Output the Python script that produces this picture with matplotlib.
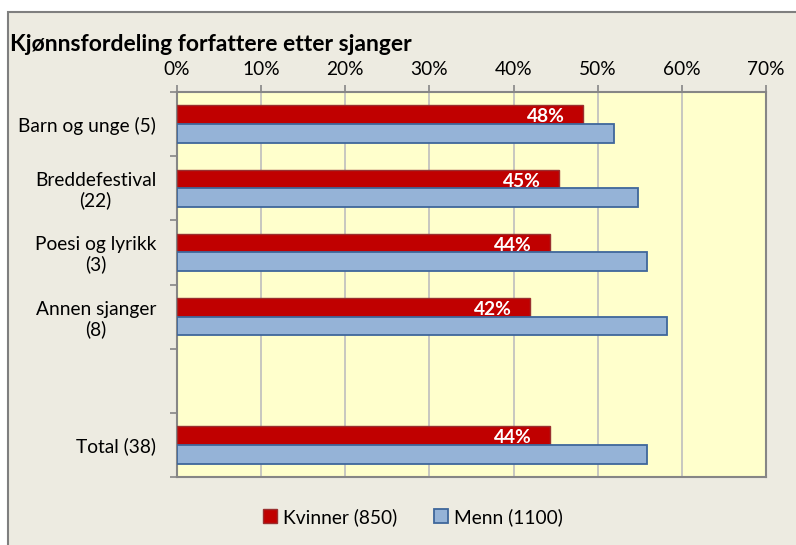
import matplotlib
matplotlib.use("Agg")
import matplotlib.pyplot as plt
import matplotlib.patches as mpatches
from matplotlib.ticker import FuncFormatter, FixedLocator
import numpy as np

# ---------------- data ----------------
CATEGORIES = ["Barn og unge (5)", "Breddefestival\n(22)", "Poesi og lyrikk\n(3)",
              "Annen sjanger\n(8)", "", "Total (38)"]
KVINNER = [0.482, 0.454, 0.443, 0.419, np.nan, 0.443]
MENN    = [0.519, 0.548, 0.558, 0.582, np.nan, 0.558]
KVINNER_LABELS = ["48%", "45%", "44%", "42%", "", "44%"]
LEGEND = ["Kvinner (850)", "Menn (1100)"]
TITLE = "Kjønnsfordeling forfattere etter sjanger"

# ---------------- style ----------------
plt.rcParams["font.family"] = ["Lato", "DejaVu Sans"]
FIG_BG   = "#EDEBE1"
PLOT_BG  = "#FFFFCC"
RED      = "#C00000"
RED_EDGE = "#9A3030"
BLUE     = "#95B3D7"
BLUE_EDGE = "#3F679B"
GRAY     = "#868686"
FS = 13.8

W, H = 796, 545
fig = plt.figure(figsize=(W / 100, H / 100), dpi=100)
fig.patch.set_facecolor("white")

# chart frame (extends past right/bottom edge)
frame = mpatches.Rectangle((8 / W, -0.05), 1.1, 1 - 12 / H + 0.05,
                           transform=fig.transFigure, facecolor=FIG_BG,
                           edgecolor="#7F7F7F", linewidth=1.5, zorder=-10)
fig.patches.append(frame)

ax = fig.add_axes([177 / W, 1 - 477 / H, (766 - 177) / W, (477 - 92) / H])
ax.set_facecolor(PLOT_BG)

y = np.arange(len(CATEGORIES))
h = 0.29
ax.barh(y - h / 2, KVINNER, height=h, color=RED, edgecolor=RED_EDGE,
        linewidth=1.0, zorder=3)
ax.barh(y + h / 2, MENN, height=h, color=BLUE, edgecolor=BLUE_EDGE,
        linewidth=1.3, zorder=3)

for yi, v, lab in zip(y, KVINNER, KVINNER_LABELS):
    if lab:
        ax.annotate(lab, (v, yi - h / 2), xytext=(-13, -1.5), textcoords="offset points",
                    ha="right", va="center", color="white", fontweight="bold",
                    fontsize=FS, zorder=4)

ax.set_xlim(0, 0.7)
ax.set_ylim(len(CATEGORIES) - 0.5, -0.5)

ax.xaxis.tick_top()
ax.set_xticks(np.arange(0, 0.71, 0.1))
ax.xaxis.set_major_formatter(FuncFormatter(lambda v, p: f"{v * 100:.0f}%"))
ax.tick_params(axis="x", direction="out", length=5, width=1.2, color=GRAY,
               labelsize=FS, pad=5)

# y ticks at slot boundaries, labels at centres
ax.yaxis.set_major_locator(FixedLocator(np.arange(-0.5, len(CATEGORIES), 1.0)))
ax.yaxis.set_major_formatter(FuncFormatter(lambda v, p: ""))
ax.yaxis.set_minor_locator(FixedLocator(y))
ax.set_yticklabels(CATEGORIES, minor=True, fontsize=FS, ha="right",
                   multialignment="center", linespacing=1.15)
ax.tick_params(axis="y", which="major", direction="out", length=5, width=1.2,
               color=GRAY)
ax.tick_params(axis="y", which="minor", length=0, pad=15)

ax.grid(axis="x", color="#BEBEBE", linewidth=1.2, zorder=0)
ax.set_axisbelow(True)
for s in ax.spines.values():
    s.set_color(GRAY)
    s.set_linewidth(1.5)

fig.text(10 / W, 1 - 51 / H, TITLE, fontsize=16.5, fontweight="bold",
         ha="left", va="baseline")

handles = [mpatches.Patch(facecolor=RED, edgecolor=RED_EDGE, label=LEGEND[0]),
           mpatches.Patch(facecolor=BLUE, edgecolor=BLUE_EDGE, linewidth=1.3,
                          label=LEGEND[1])]
fig.legend(handles=handles, loc="center", bbox_to_anchor=(413 / W, 1 - 517 / H),
           ncol=2, frameon=False, fontsize=FS, handlelength=0.75,
           handleheight=0.75, handletextpad=0.3, columnspacing=1.9)

fig.savefig("out.png", dpi=100, facecolor=fig.get_facecolor())
